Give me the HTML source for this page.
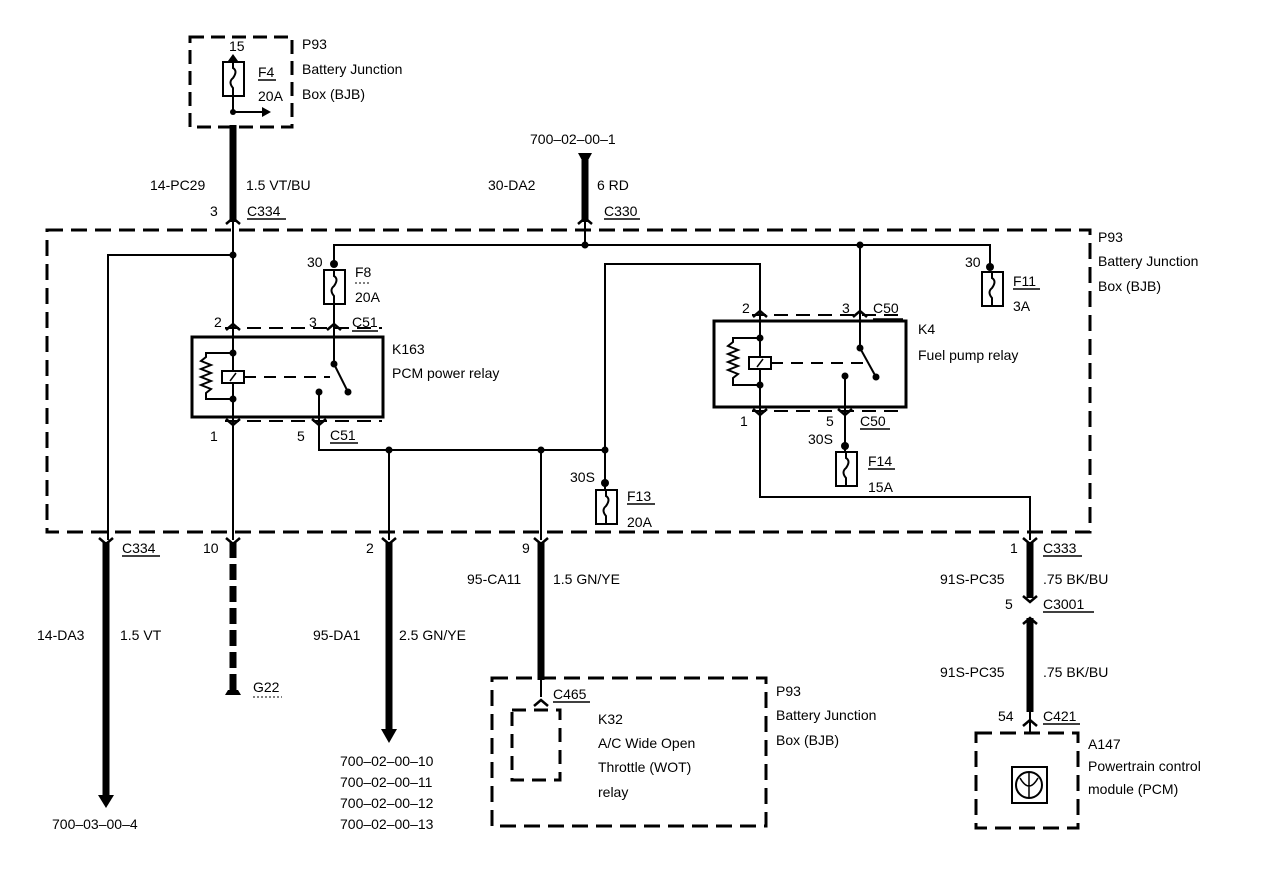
<!DOCTYPE html>
<html><head><meta charset="utf-8"><style>
html,body{margin:0;padding:0;background:#fff;}
svg{display:block;}
text{font-family:"Liberation Sans",sans-serif;font-size:14px;fill:#000;}
</style></head><body>
<svg width="1280" height="894" viewBox="0 0 1280 894" xmlns="http://www.w3.org/2000/svg">
<defs>
<g id="fuse"><rect x="-10" y="0" width="21" height="34" fill="#fff" stroke="#000" stroke-width="2"/><path d="M0 0 v6 q5 3 0 10 q-5 4 0 10 v8" fill="none" stroke="#000" stroke-width="2"/></g>
<g id="cup"><path d="M-7 6 L0 0 L7 6" fill="none" stroke="#000" stroke-width="2.5"/></g>
<g id="cdn"><path d="M-7 -6 L0 0 L7 -6" fill="none" stroke="#000" stroke-width="2.5"/></g>
</defs>
<g fill="none" stroke="#000">
<rect x="190" y="37" width="102" height="90" stroke-width="3" stroke-dasharray="14,7"/>
<line x1="233" y1="58" x2="233" y2="112" stroke-width="2"/>
<line x1="233" y1="112" x2="262" y2="112" stroke-width="2"/>
<rect x="47" y="230" width="1043" height="302" stroke-width="3" stroke-dasharray="16,8"/>
<line x1="233" y1="125" x2="233" y2="222" stroke-width="7"/>
<line x1="585" y1="160" x2="585" y2="222" stroke-width="7"/>
<line x1="233" y1="222" x2="233" y2="540" stroke-width="2"/>
<line x1="585" y1="222" x2="585" y2="245" stroke-width="2"/>
<polyline points="108,540 108,255 233,255" stroke-width="2"/>
<polyline points="334,262 334,245 860,245 860,312" stroke-width="2"/>
<polyline points="860,245 990,245 990,268" stroke-width="2"/>
<line x1="334" y1="305" x2="334" y2="364" stroke-width="2"/>
<line x1="334" y1="364" x2="348" y2="392" stroke-width="2"/>
<polyline points="319,392 319,450 605,450 605,264 760,264 760,410 760,497 1030,497 1030,540" stroke-width="2"/>
<line x1="389" y1="450" x2="389" y2="540" stroke-width="2"/>
<line x1="541" y1="450" x2="541" y2="540" stroke-width="2"/>
<line x1="605" y1="450" x2="605" y2="490" stroke-width="2"/>
<line x1="225" y1="328" x2="382" y2="328" stroke-width="2" stroke-dasharray="14,8"/>
<line x1="225" y1="421" x2="382" y2="421" stroke-width="2" stroke-dasharray="14,8"/>
<line x1="752" y1="315" x2="905" y2="315" stroke-width="2" stroke-dasharray="14,8"/>
<line x1="752" y1="411" x2="905" y2="411" stroke-width="2" stroke-dasharray="14,8"/>
<rect x="192" y="337" width="191" height="80" stroke-width="3"/>
<line x1="233" y1="337" x2="233" y2="417" stroke-width="2"/>
<polyline points="233,353 206,353 206,357 201,361 211,365 201,369 211,373 201,377 211,381 201,385 211,389 206,393 206,399 233,399" stroke-width="2"/>
<rect x="222" y="371" width="22" height="12" stroke-width="2" fill="#fff"/>
<line x1="230" y1="381" x2="236" y2="373" stroke-width="1.5"/>
<line x1="244" y1="377" x2="330" y2="377" stroke-width="2" stroke-dasharray="12,8"/>
<rect x="714" y="321" width="192" height="86" stroke-width="3"/>
<line x1="760" y1="321" x2="760" y2="407" stroke-width="2"/>
<polyline points="760,338 733,338 733,342 728,346 738,350 728,354 738,358 728,362 738,366 728,370 738,374 733,378 733,385 760,385" stroke-width="2"/>
<rect x="749" y="357" width="22" height="12" stroke-width="2" fill="#fff"/>
<line x1="757" y1="367" x2="763" y2="359" stroke-width="1.5"/>
<line x1="771" y1="363" x2="866" y2="363" stroke-width="2" stroke-dasharray="12,8"/>
<line x1="860" y1="312" x2="860" y2="348" stroke-width="2"/>
<line x1="860" y1="348" x2="876" y2="377" stroke-width="2"/>
<line x1="845" y1="376" x2="845" y2="452" stroke-width="2"/>
<line x1="106" y1="542" x2="106" y2="795" stroke-width="7"/>
<line x1="233" y1="542" x2="233" y2="690" stroke-width="7" stroke-dasharray="16,6"/>
<line x1="389" y1="542" x2="389" y2="730" stroke-width="7"/>
<line x1="541" y1="542" x2="541" y2="680" stroke-width="7"/>
<polyline points="541,680 541,697" stroke-width="2"/>
<line x1="1030" y1="542" x2="1030" y2="598" stroke-width="7"/>
<line x1="1030" y1="618" x2="1030" y2="712" stroke-width="7"/>
<line x1="1030" y1="712" x2="1030" y2="733" stroke-width="2"/>
<rect x="492" y="678" width="274" height="148" stroke-width="3" stroke-dasharray="16,8"/>
<rect x="512" y="710" width="48" height="70" stroke-width="3" stroke-dasharray="14,8"/>
<rect x="976" y="733" width="102" height="95" stroke-width="3" stroke-dasharray="16,8"/>
<rect x="1012" y="767" width="35" height="36" stroke-width="2"/>
<circle cx="1029" cy="785" r="13" stroke-width="2"/>
<path d="M1029 772 v26 M1020 778 q9 16 18 0" stroke-width="1.5"/>
<g stroke-width="1.5">
<line x1="247" y1="219" x2="286" y2="219"/><line x1="604" y1="219" x2="640" y2="219"/>
<line x1="352" y1="331" x2="378" y2="331"/><line x1="330" y1="443" x2="358" y2="443"/>
<line x1="873" y1="319" x2="903" y2="319"/><line x1="860" y1="429" x2="890" y2="429"/>
<line x1="1013" y1="289" x2="1040" y2="289"/><line x1="627" y1="504" x2="655" y2="504"/>
<line x1="868" y1="469" x2="895" y2="469"/><line x1="258" y1="80" x2="276" y2="80"/>
<line x1="122" y1="556" x2="160" y2="556"/><line x1="1043" y1="556" x2="1082" y2="556"/>
<line x1="1043" y1="612" x2="1094" y2="612"/><line x1="1043" y1="724" x2="1080" y2="724"/>
<line x1="553" y1="702" x2="590" y2="702"/>
</g>
<line x1="253" y1="697" x2="282" y2="697" stroke-width="1" stroke-dasharray="2,2"/>
<line x1="355" y1="283" x2="370" y2="283" stroke-width="1" stroke-dasharray="2,2"/>
</g>
<use href="#cup" x="233" y="218"/><use href="#cup" x="585" y="218"/>
<use href="#cup" x="233" y="324"/><use href="#cup" x="334" y="324"/>
<use href="#cup" x="760" y="311"/><use href="#cup" x="860" y="311"/>
<use href="#cdn" x="233" y="425"/><use href="#cdn" x="319" y="425"/>
<use href="#cdn" x="760" y="415"/><use href="#cdn" x="845" y="415"/>
<use href="#cdn" x="106" y="544"/><use href="#cdn" x="233" y="544"/><use href="#cdn" x="389" y="544"/><use href="#cdn" x="541" y="544"/><use href="#cdn" x="1030" y="544"/>
<use href="#cup" x="1030" y="618"/><use href="#cdn" x="1030" y="602"/>
<use href="#cup" x="541" y="700"/><use href="#cup" x="1030" y="720"/>
<use href="#fuse" x="233" y="62"/><use href="#fuse" x="334" y="270"/><use href="#fuse" x="992" y="272"/>
<use href="#fuse" x="606" y="490"/><use href="#fuse" x="846" y="452"/>
<g fill="#000">
<circle cx="233" cy="255" r="3.5"/><circle cx="585" cy="245" r="3.5"/><circle cx="860" cy="245" r="3.5"/>
<circle cx="233" cy="353" r="3.5"/><circle cx="233" cy="399" r="3.5"/><circle cx="334" cy="364" r="3.5"/><circle cx="348" cy="392" r="3.5"/><circle cx="319" cy="392" r="3.5"/>
<circle cx="760" cy="338" r="3.5"/><circle cx="760" cy="385" r="3.5"/><circle cx="860" cy="348" r="3.5"/><circle cx="876" cy="377" r="3.5"/><circle cx="845" cy="376" r="3.5"/>
<circle cx="389" cy="450" r="3.5"/><circle cx="541" cy="450" r="3.5"/><circle cx="605" cy="450" r="3.5"/>
<circle cx="605" cy="483" r="4"/><circle cx="845" cy="446" r="4"/><circle cx="990" cy="267" r="4"/><circle cx="334" cy="264" r="4"/>
<circle cx="233" cy="112" r="3"/>
<polygon points="262,107 271,112 262,117"/><polygon points="228,61 233,54 238,61"/>
<polygon points="578,153 592,153 585,166"/>
<polygon points="98,795 114,795 106,808"/><polygon points="381,729 397,729 389,743"/>
<polygon points="225,695 241,695 238,690 228,690"/>
</g>
<text x="229" y="51">15</text><text x="258" y="77">F4</text><text x="258" y="101">20A</text>
<text x="302" y="49">P93</text><text x="302" y="74">Battery Junction</text><text x="302" y="99">Box (BJB)</text>
<text x="530" y="144">700–02–00–1</text>
<text x="150" y="190">14-PC29</text><text x="246" y="190">1.5 VT/BU</text>
<text x="488" y="190">30-DA2</text><text x="597" y="190">6 RD</text>
<text x="210" y="216">3</text><text x="247" y="216">C334</text><text x="604" y="216">C330</text>
<text x="1098" y="242">P93</text><text x="1098" y="266">Battery Junction</text><text x="1098" y="291">Box (BJB)</text>
<text x="307" y="267">30</text><text x="355" y="277">F8</text><text x="355" y="302">20A</text>
<text x="965" y="267">30</text><text x="1013" y="286">F11</text><text x="1013" y="311">3A</text>
<text x="214" y="327">2</text><text x="309" y="327">3</text><text x="352" y="327">C51</text>
<text x="392" y="354">K163</text><text x="392" y="378">PCM power relay</text>
<text x="742" y="313">2</text><text x="842" y="313">3</text><text x="873" y="313">C50</text>
<text x="918" y="334">K4</text><text x="918" y="360">Fuel pump relay</text>
<text x="210" y="441">1</text><text x="297" y="441">5</text><text x="330" y="440">C51</text>
<text x="740" y="426">1</text><text x="826" y="426">5</text><text x="860" y="426">C50</text>
<text x="808" y="444">30S</text><text x="868" y="466">F14</text><text x="868" y="492">15A</text>
<text x="570" y="482">30S</text><text x="627" y="501">F13</text><text x="627" y="527">20A</text>
<text x="122" y="553">C334</text><text x="203" y="553">10</text><text x="366" y="553">2</text><text x="522" y="553">9</text>
<text x="1010" y="553">1</text><text x="1043" y="553">C333</text>
<text x="467" y="584">95-CA11</text><text x="553" y="584">1.5 GN/YE</text>
<text x="940" y="584">91S-PC35</text><text x="1043" y="584">.75 BK/BU</text>
<text x="1005" y="609">5</text><text x="1043" y="609">C3001</text>
<text x="37" y="640">14-DA3</text><text x="120" y="640">1.5 VT</text>
<text x="313" y="640">95-DA1</text><text x="399" y="640">2.5 GN/YE</text>
<text x="940" y="677">91S-PC35</text><text x="1043" y="677">.75 BK/BU</text>
<text x="253" y="692">G22</text>
<text x="553" y="699">C465</text>
<text x="776" y="696">P93</text><text x="776" y="720">Battery Junction</text><text x="776" y="745">Box (BJB)</text>
<text x="598" y="724">K32</text><text x="598" y="748">A/C Wide Open</text><text x="598" y="772">Throttle (WOT)</text><text x="598" y="797">relay</text>
<text x="998" y="721">54</text><text x="1043" y="721">C421</text>
<text x="1088" y="749">A147</text><text x="1088" y="771">Powertrain control</text><text x="1088" y="794">module (PCM)</text>
<text x="340" y="766">700–02–00–10</text><text x="340" y="787">700–02–00–11</text><text x="340" y="808">700–02–00–12</text><text x="340" y="829">700–02–00–13</text>
<text x="52" y="829">700–03–00–4</text>
</svg>
</body></html>
